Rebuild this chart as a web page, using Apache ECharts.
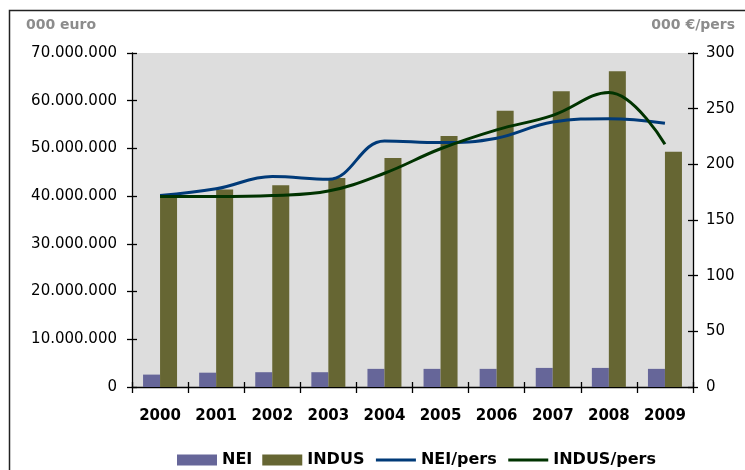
<!DOCTYPE html>
<html>
<head>
<meta charset="utf-8">
<script src="https://cdn.jsdelivr.net/npm/echarts@6/dist/echarts.min.js"></script>
<style>
  html, body { margin: 0; padding: 0; background: #fff; }
  #chart { width: 745px; height: 470px; }
</style>
</head>
<body>
<div id="chart"></div>
<script>
// data
const years = ['2000', '2001', '2002', '2003', '2004', '2005', '2006', '2007', '2008', '2009'];
const nei = [2600000, 3000000, 3100000, 3100000, 3800000, 3800000, 3800000, 4000000, 4000000, 3800000];
const indus = [40400000, 41400000, 42300000, 43800000, 48000000, 52600000, 57900000, 62000000, 66200000, 49300000];
const neiPers = [172, 178, 189, 186.5, 221, 219.5, 223.5, 238, 241, 237];
const indusPers = [171, 171, 172, 176, 192, 214, 231, 244, 264.5, 218];

const font = 'DejaVu Sans';
const dots = (v) => String(v).replace(/\B(?=(\d{3})+(?!\d))/g, '.');

const chart = echarts.init(document.getElementById('chart'));

// common bits for the value axes (second copies only draw the inner half of the ticks)
const axisLine = { show: true, lineStyle: { color: '#000', width: 1.3 } };
const tickStyle = { color: '#000', width: 1.3 };

const option = {
  animation: false,
  backgroundColor: '#fff',
  textStyle: { fontFamily: font },
  graphic: [
    {
      type: 'rect',
      shape: { x: 9.5, y: 10.5, width: 760, height: 480 },
      style: { fill: 'none', stroke: '#222', lineWidth: 1.5 },
      silent: true
    },
    {
      type: 'text', left: 26, top: 18,
      style: { text: '000 euro', fill: '#8c8c8c', font: 'bold 14px "DejaVu Sans"' }
    },
    {
      type: 'text', right: 10, top: 18,
      style: { text: '000 €/pers', fill: '#8c8c8c', font: 'bold 14px "DejaVu Sans"' }
    }
  ],
  grid: {
    left: 132, top: 53, width: 561, height: 334,
    show: true, backgroundColor: '#dddddd', borderWidth: 0
  },
  legend: {
    left: 172, top: 447,
    itemWidth: 40, itemHeight: 11, itemGap: 10,
    textStyle: { fontFamily: font, fontWeight: 'bold', fontSize: 16, color: '#000' },
    data: [
      { name: 'NEI', icon: 'rect' },
      { name: 'INDUS', icon: 'rect' },
      { name: 'NEI/pers', itemStyle: { opacity: 0 }, lineStyle: { width: 3, opacity: 1 } },
      { name: 'INDUS/pers', itemStyle: { opacity: 0 }, lineStyle: { width: 3, opacity: 1 } }
    ]
  },
  xAxis: [
    {
      type: 'category', data: years,
      axisLine: axisLine,
      axisTick: { show: true, length: 6, lineStyle: tickStyle },
      axisLabel: { interval: 0, margin: 22, fontFamily: font, fontWeight: 'bold', fontSize: 15, color: '#000' }
    },
    {
      type: 'category', data: years, position: 'bottom',
      axisLine: { show: false },
      axisTick: { show: true, inside: true, length: 5, lineStyle: tickStyle },
      axisLabel: { show: false }
    }
  ],
  yAxis: [
    {
      type: 'value', min: 0, max: 70000000, interval: 10000000,
      axisLine: axisLine,
      axisTick: { show: true, length: 5, lineStyle: tickStyle },
      splitLine: { show: false },
      axisLabel: { margin: 15, fontFamily: font, fontSize: 15, color: '#000', formatter: dots }
    },
    {
      type: 'value', min: 0, max: 300, interval: 50, position: 'right',
      axisLine: axisLine,
      axisTick: { show: true, length: 5, lineStyle: tickStyle },
      splitLine: { show: false },
      axisLabel: { margin: 13, fontFamily: font, fontSize: 15, color: '#000' }
    },
    {
      type: 'value', min: 0, max: 70000000, interval: 10000000, position: 'left',
      axisLine: { show: false },
      axisTick: { show: true, inside: true, length: 5, lineStyle: tickStyle },
      splitLine: { show: false },
      axisLabel: { show: false }
    },
    {
      type: 'value', min: 0, max: 300, interval: 50, position: 'right',
      axisLine: { show: false },
      axisTick: { show: true, inside: true, length: 5, lineStyle: tickStyle },
      splitLine: { show: false },
      axisLabel: { show: false }
    }
  ],
  series: [
    {
      name: 'NEI', type: 'bar', data: nei,
      barWidth: 17, barGap: '0%',
      itemStyle: { color: '#666699' }
    },
    {
      name: 'INDUS', type: 'bar', data: indus,
      barWidth: 17, barGap: '0%',
      itemStyle: { color: '#666633' }
    },
    {
      name: 'NEI/pers', type: 'line', yAxisIndex: 1, data: neiPers,
      smooth: 0.4, symbol: 'none',
      lineStyle: { color: '#003a78', width: 3 },
      itemStyle: { color: '#003a78' }
    },
    {
      name: 'INDUS/pers', type: 'line', yAxisIndex: 1, data: indusPers,
      smooth: 0.4, symbol: 'none',
      lineStyle: { color: '#003300', width: 3 },
      itemStyle: { color: '#003300' }
    }
  ]
};

chart.setOption(option);
</script>
</body>
</html>
